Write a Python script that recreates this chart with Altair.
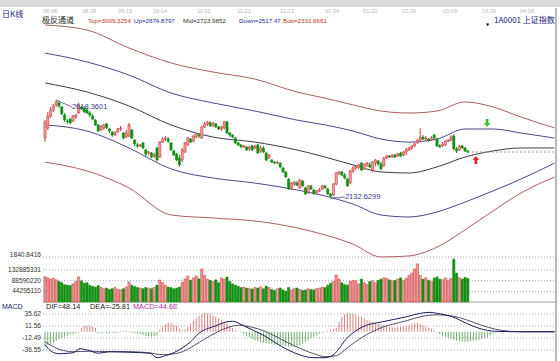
import altair as alt
import pandas as pd

# ---------------- data ----------------
OPEN = [2430, 2480, 2539, 2569, 2594, 2604, 2584, 2544, 2514, 2524,
        2514, 2534, 2554, 2584, 2579, 2569, 2554, 2539, 2519, 2495,
        2470, 2480, 2500, 2475, 2460, 2445, 2460, 2475, 2455, 2435,
        2440, 2470, 2420, 2396, 2391, 2406, 2371, 2356, 2356, 2341,
        2381, 2336, 2410, 2425, 2425, 2406, 2366, 2351, 2331, 2321,
        2361, 2396, 2425, 2415, 2435, 2445, 2430, 2485, 2500, 2505,
        2495, 2500, 2485, 2475, 2480, 2510, 2455, 2445, 2430, 2406,
        2396, 2386, 2386, 2376, 2391, 2381, 2396, 2366, 2381, 2356,
        2331, 2321, 2311, 2306, 2306, 2282, 2262, 2227, 2183, 2202,
        2207, 2183, 2217, 2183, 2163, 2193, 2173, 2158, 2168, 2178,
        2193, 2178, 2153, 2148, 2202, 2257, 2262, 2247, 2227, 2207,
        2267, 2282, 2287, 2306, 2277, 2297, 2297, 2272, 2306, 2316,
        2302, 2292, 2331, 2341, 2336, 2346, 2341, 2356, 2346, 2361,
        2371, 2381, 2391, 2406, 2420, 2435, 2425, 2425, 2420, 2445,
        2425, 2391, 2391, 2396, 2415, 2420, 2440, 2376, 2371, 2391,
        2381, 2366]
CLOSE = [2510, 2539, 2569, 2589, 2609, 2589, 2549, 2519, 2510, 2505,
         2539, 2544, 2594, 2574, 2559, 2554, 2544, 2524, 2495, 2465,
         2490, 2495, 2480, 2465, 2445, 2455, 2475, 2480, 2430, 2455,
         2495, 2430, 2401, 2391, 2396, 2381, 2351, 2361, 2336, 2346,
         2321, 2410, 2425, 2430, 2415, 2371, 2346, 2321, 2297, 2371,
         2406, 2430, 2410, 2440, 2450, 2440, 2485, 2500, 2510, 2490,
         2505, 2485, 2475, 2485, 2510, 2455, 2445, 2435, 2406, 2396,
         2386, 2391, 2371, 2386, 2371, 2391, 2356, 2381, 2361, 2321,
         2346, 2311, 2306, 2311, 2287, 2262, 2237, 2178, 2207, 2212,
         2197, 2222, 2193, 2153, 2193, 2178, 2158, 2168, 2173, 2193,
         2183, 2153, 2143, 2202, 2257, 2262, 2247, 2232, 2193, 2267,
         2282, 2287, 2297, 2272, 2297, 2306, 2287, 2311, 2321, 2302,
         2277, 2331, 2341, 2336, 2346, 2336, 2351, 2341, 2361, 2371,
         2381, 2391, 2401, 2420, 2435, 2425, 2430, 2420, 2430, 2430,
         2391, 2386, 2401, 2415, 2420, 2435, 2376, 2366, 2391, 2381,
         2366, 2361]
HIGH = [2519, 2559, 2584, 2599, 2618.36, 2614, 2589, 2554, 2524, 2529,
        2544, 2549, 2604, 2589, 2589, 2579, 2564, 2549, 2524, 2500,
        2495, 2500, 2505, 2480, 2465, 2465, 2480, 2490, 2460, 2470,
        2505, 2475, 2425, 2406, 2401, 2410, 2376, 2366, 2361, 2356,
        2386, 2415, 2435, 2440, 2435, 2410, 2371, 2356, 2346, 2381,
        2410, 2435, 2430, 2445, 2455, 2455, 2490, 2510, 2514, 2514,
        2510, 2505, 2490, 2490, 2514, 2514, 2460, 2450, 2435, 2410,
        2401, 2396, 2391, 2391, 2396, 2396, 2401, 2391, 2391, 2361,
        2351, 2326, 2316, 2316, 2311, 2287, 2267, 2232, 2212, 2217,
        2217, 2227, 2222, 2188, 2197, 2197, 2178, 2173, 2183, 2197,
        2197, 2183, 2158, 2207, 2262, 2267, 2267, 2257, 2232, 2272,
        2292, 2292, 2302, 2311, 2306, 2311, 2311, 2316, 2326, 2321,
        2311, 2336, 2346, 2346, 2351, 2351, 2356, 2361, 2366, 2381,
        2386, 2396, 2406, 2425, 2478.38, 2445, 2440, 2430, 2440, 2450,
        2430, 2401, 2410, 2420, 2425, 2445, 2450, 2386, 2396, 2396,
        2386, 2371]
LOW = [2410, 2470, 2529, 2559, 2584, 2579, 2544, 2510, 2500, 2500,
       2510, 2524, 2549, 2569, 2554, 2549, 2534, 2519, 2490, 2460,
       2465, 2470, 2475, 2455, 2435, 2440, 2455, 2465, 2425, 2430,
       2435, 2425, 2391, 2381, 2386, 2376, 2341, 2346, 2331, 2331,
       2316, 2331, 2406, 2415, 2406, 2366, 2341, 2316, 2287, 2311,
       2356, 2391, 2406, 2410, 2430, 2430, 2425, 2480, 2490, 2485,
       2485, 2480, 2470, 2465, 2475, 2450, 2435, 2430, 2401, 2391,
       2381, 2381, 2366, 2366, 2366, 2376, 2351, 2356, 2356, 2316,
       2326, 2306, 2302, 2302, 2282, 2257, 2232, 2173, 2173, 2193,
       2193, 2178, 2188, 2148, 2153, 2173, 2148, 2153, 2163, 2173,
       2178, 2148, 2132.63, 2143, 2197, 2247, 2242, 2227, 2188, 2202,
       2257, 2272, 2277, 2267, 2272, 2287, 2282, 2262, 2292, 2292,
       2272, 2287, 2326, 2331, 2331, 2331, 2336, 2336, 2341, 2346,
       2366, 2371, 2386, 2401, 2415, 2420, 2415, 2410, 2415, 2425,
       2386, 2381, 2386, 2391, 2410, 2415, 2371, 2356, 2366, 2376,
       2361, 2356]
VOLUME_M = [105, 100, 95, 98, 92, 85, 80, 72, 70, 68,
            75, 85, 104, 88, 78, 80, 70, 65, 62, 68,
            60, 55, 58, 52, 55, 60, 52, 50, 55, 62,
            83, 70, 65, 60, 58, 55, 60, 57, 55, 60,
            70, 91, 80, 68, 62, 60, 55, 58, 62, 82,
            95, 108, 90, 100, 108, 96, 137, 110, 95, 90,
            85, 92, 80, 100, 95, 104, 85, 75, 70, 65,
            60, 62, 58, 56, 54, 60, 58, 62, 55, 66,
            60, 52, 48, 55, 58, 50, 45, 60, 50, 55,
            58, 52, 48, 50, 55, 52, 50, 55, 58, 62,
            60, 70, 78, 85, 112, 95, 80, 72, 70, 85,
            90, 88, 75, 95, 80, 72, 85, 88, 80, 90,
            95, 100, 98, 92, 88, 90, 95, 100, 90, 98,
            110, 120, 137, 158, 110, 95, 100, 90, 85, 100,
            104, 95, 92, 100, 90, 98, 178, 120, 100, 95,
            102, 98]
MACD_HIST = [-30, -27, -25, -22, -18, -15, -12, -10, -8, -6,
             -5, -3, -2, 8, 11, 12, 12, 10, 8, -3,
             -3, -2, -3, -4, -2, -3, -2, -1, 2, 2,
             1, -2, -3, -4, -5, -6, -8, -9, -10, -9,
             -8, 4, 10, 15, 18, 17, 14, 12, 6, 4,
             5, 10, 16, 22, 27, 32, 36, 38, 37, 35,
             33, 30, 27, 24, 20, 16, 12, 8, 4, 1,
             -2, -5, -8, -11, -14, -17, -19, -21, -22, -23,
             -24, -25, -26, -27, -28, -28, -29, -30, -30, -30,
             -29, -27, -24, -20, -17, -13, -10, -7, -4, -2,
             -1, 2, 4, 6, 8, 20, 30, 35, 37, 37,
             36, 34, 32, 30, 27, 24, 22, 20, 18, 16,
             15, 14, 12, 10, 9, 8, 9, 10, 11, 12,
             13, 15, 17, 18, 16, 13, 10, 8, 5, 2,
             -2, -5, -8, -10, -12, -14, -16, -18, -19, -20,
             -20, -20, -19, -18, -17, -16, -14, -12, -10, -7,
             -4, -2, -1]
DIF_IDX = [0, 2, 5, 10, 12.5, 16, 19, 23, 30, 37.5, 40, 43, 48, 52, 55, 61, 65, 67, 71, 74,
           79, 84, 89, 96, 100, 103, 108, 113.5, 120.5, 129, 134, 137.5, 140, 145.5, 150.5,
           155, 161, 170, 182]
DIF_VAL = [-26, -38, -44, -42, -34, -38, -43, -40, -41, -43, -52, -48, -36, -20, -3, 12, 20, 21, 12, 4,
           -10, -28, -42, -52, -52, -46, -12, 10, 20, 30, 37, 39, 37, 30, 17,
           7, 1, 0, 0]
DEA_IDX = [0, 5, 10, 16, 23, 30, 37, 42, 48, 52, 56, 61, 65, 69, 74, 79, 84, 89, 96, 100,
           104, 108, 113, 120, 129, 134, 140, 146, 151, 156, 161, 166, 172, 182]
DEA_VAL = [-20, -35, -40, -39, -40, -40, -42, -46, -42, -32, -18, -2, 8, 13, 9, 0, -14, -28, -44, -50,
           -48, -32, -12, 8, 22, 30, 34, 31, 23, 13, 5, 1, 0, 0]
BAND_IDX = [0, 15, 30, 45, 60, 75, 90, 100, 110, 120, 130, 140, 150, 160, 170, 182]
BAND_TOP = [2990, 2965, 2876, 2802, 2757, 2722, 2658, 2628, 2594, 2564, 2554, 2564, 2609, 2584, 2534, 2480]
BAND_UP = [2851, 2807, 2742, 2653, 2604, 2564, 2519, 2495, 2465, 2425, 2410, 2425, 2475, 2475, 2455, 2430]
BAND_MID = [2703, 2658, 2589, 2495, 2435, 2410, 2371, 2336, 2297, 2262, 2257, 2287, 2336, 2366, 2381, 2381]
BAND_DOWN = [2495, 2465, 2381, 2277, 2232, 2207, 2173, 2143, 2103, 2049, 2039, 2064, 2113, 2168, 2227, 2306]
BAND_BOTT = [2311, 2267, 2183, 2049, 2034, 2019, 1985, 1950, 1905, 1841, 1846, 1890, 1975, 2069, 2158, 2237]
PRICE_TICKS = [1840.8416]
PRICE_TICK_LABELS = ["1840.8416"]
VOL_TICKS = [132885331, 88590220, 44295110]
VOL_TICK_LABELS = ["132885331", "88590220", "44295110"]
MACD_TICKS = [35.62, 11.56, -12.49, -36.55]
MACD_TICK_LABELS = ["35.62", "11.56", "-12.49", "-36.55"]
DATE_LABELS = ["08-08", "08-29", "09-19", "10-14", "11-02", "11-23", "12-12",
               "01-04", "01-20", "02-20", "03-09", "03-29", "04-18"]
DATE_POS = [-0.7, 13.2, 26.1, 38.6, 54.3, 68.6, 83.9, 100, 113.6, 127.5, 142.1, 156.1, 169.6]
HIGH_LABEL, HIGH_POS = "2618.3601", (9.6, 2584)
LOW_LABEL, LOW_POS = "2132.6299", (107.1, 2138)
SELL_SIGNAL = (157.9, 2505)
BUY_SIGNAL = (153.9, 2321)

# ---------------- chart ----------------
N = len(CLOSE)
candles = pd.DataFrame({"i": list(range(N)), "o": OPEN, "h": HIGH, "l": LOW, "c": CLOSE,
                        "v": [m * 1_000_000 for m in VOLUME_M]})
candles["zero"] = 0
hist = pd.DataFrame({"i": list(range(len(MACD_HIST))), "m": MACD_HIST})
hist["zero"] = 0
one = pd.DataFrame({"a": [0]})

X = alt.Scale(domain=[0, 182], range=[45, 554.6], padding=0, nice=False, zero=False)
PY = alt.Scale(domain=[1840.8416, 2990], range=[257, 25], nice=False, zero=False)
VY = alt.Scale(domain=[0, 190e6], range=[302, 256.25], nice=False, zero=False)
MY = alt.Scale(domain=[-58.6, 57.7], range=[361, 303], nice=False, zero=False)

SANS = "Liberation Sans"
CJK = "Noto Sans CJK SC"
UP_FILL, UP_STROKE, DOWN = "#eaa2a2", "#d23a3a", "#139013"


def xi():
    return alt.X("i:Q", scale=X, axis=None)


layers = []

# toolbar strip
layers.append(alt.Chart(one).mark_rect(color="#dcdcdc").encode(
    x=alt.value(0), x2=alt.value(560), y=alt.value(0), y2=alt.value(7)))

# dates
layers.append(alt.Chart(pd.DataFrame({"i": DATE_POS, "t": DATE_LABELS})).mark_text(
    align="left", baseline="middle", fontSize=5.5, font=SANS, color="#b8b8b8").encode(
    x=xi(), y=alt.value(10.5), text="t:N"))

# header texts
header = [
    ("日K线", 2, 15, "#1a1a7a", CJK, 8),
    ("极反通道", 42, 21, "#222222", CJK, 8),
    ("Top=3009.3254", 88, 21, "#c03030", SANS, 6.2),
    ("Up=2874.8797", 134, 21, "#2a2aa0", SANS, 6.2),
    ("Mid=2723.9852", 183, 21, "#333333", SANS, 6.2),
    ("Down=2517.47", 239, 21, "#2a2aa0", SANS, 6.2),
    ("Bott=2331.6661", 283, 21, "#c03030", SANS, 6.2),
    ("1A0001 上证指数", 494, 21, "#1a1a7a", CJK, 8),
    ("▼", 486, 25, "#000000", "DejaVu Sans", 4),
    ("MACD", 2, 307, "#1a1a7a", SANS, 7),
    ("DIF=48.14", 46, 307, "#222222", SANS, 7.3),
    ("DEA=-25.81", 90, 307, "#222222", SANS, 7.3),
    ("MACD=44.6E", 133, 307, "#b030b0", SANS, 7.3),
]
for t, px, py, col, fnt, fs in header:
    layers.append(alt.Chart(one).mark_text(
        text=t, align="left", baseline="middle", font=fnt, fontSize=fs, color=col).encode(
        x=alt.value(px), y=alt.value(py)))

# grid lines and their labels
grid = [
    (PRICE_TICKS, PRICE_TICK_LABELS, PY, -2),
    (VOL_TICKS, VOL_TICK_LABELS, VY, 0),
    (MACD_TICKS, MACD_TICK_LABELS, MY, 0),
]
for vals, labs, sc, dy in grid:
    gdf = pd.DataFrame({"v": vals, "t": labs})
    layers.append(alt.Chart(gdf).mark_rule(color="#a8a8a8", strokeDash=[1, 2], strokeWidth=1).encode(
        x=alt.value(43), x2=alt.value(556), y=alt.Y("v:Q", scale=sc, axis=None)))
    layers.append(alt.Chart(gdf).mark_text(
        align="right", baseline="middle", font=SANS, fontSize=6.6, color="#333333", dy=dy).encode(
        x=alt.value(41), y=alt.Y("v:Q", scale=sc, axis=None), text="t:N"))

# volume baseline
layers.append(alt.Chart(candles.head(1)).mark_rule(color="#a0a0a0").encode(
    x=alt.value(43), x2=alt.value(556), y=alt.Y("zero:Q", scale=VY, axis=None)))

# channel bands
for vals, col in [(BAND_TOP, "#a86060"), (BAND_UP, "#4a4a86"), (BAND_MID, "#3c3c48"),
                  (BAND_DOWN, "#4a4a86"), (BAND_BOTT, "#a86060")]:
    layers.append(alt.Chart(pd.DataFrame({"i": BAND_IDX, "p": vals})).mark_line(
        interpolate="monotone", strokeWidth=1, color=col).encode(
        x=xi(), y=alt.Y("p:Q", scale=PY, axis=None)))

UP = "datum.c >= datum.o"
# wicks
layers.append(alt.Chart(candles).mark_rule(strokeWidth=1).encode(
    x=xi(), y=alt.Y("l:Q", scale=PY, axis=None), y2="h:Q",
    color=alt.condition(UP, alt.value(UP_STROKE), alt.value(DOWN))))
# bodies
layers.append(alt.Chart(candles).mark_bar(size=2.2, strokeWidth=0.6).encode(
    x=xi(), y=alt.Y("o:Q", scale=PY, axis=None), y2="c:Q",
    fill=alt.condition(UP, alt.value(UP_FILL), alt.value(DOWN)),
    stroke=alt.condition(UP, alt.value(UP_STROKE), alt.value(DOWN))))

# last price dashed line
layers.append(alt.Chart(pd.DataFrame({"i": [N - 1, 182], "p": [CLOSE[-1], CLOSE[-1]]})).mark_line(
    color="#909090", strokeDash=[2, 2], strokeWidth=1).encode(
    x=xi(), y=alt.Y("p:Q", scale=PY, axis=None)))

# high / low annotations
hi_i = HIGH.index(max(HIGH))
lo_i = LOW.index(min(LOW))
layers.append(alt.Chart(pd.DataFrame({"i": [hi_i, HIGH_POS[0]], "p": [max(HIGH), HIGH_POS[1]]})).mark_line(
    color="#4a4a8a", strokeWidth=0.8).encode(x=xi(), y=alt.Y("p:Q", scale=PY, axis=None)))
layers.append(alt.Chart(pd.DataFrame({"i": [lo_i, LOW_POS[0]], "p": [min(LOW), LOW_POS[1]]})).mark_line(
    color="#4a4a8a", strokeWidth=0.8).encode(x=xi(), y=alt.Y("p:Q", scale=PY, axis=None)))
for lab, (pi, pp) in [(HIGH_LABEL, HIGH_POS), (LOW_LABEL, LOW_POS)]:
    layers.append(alt.Chart(pd.DataFrame({"i": [pi], "p": [pp], "t": [lab]})).mark_text(
        align="left", baseline="middle", font=SANS, fontSize=7.5, color="#3a3a8a").encode(
        x=xi(), y=alt.Y("p:Q", scale=PY, axis=None), text="t:N"))

# signal arrows
DOWN_ARROW = "M-0.35,-1 L0.35,-1 L0.35,0.1 L0.9,0.1 L0,1 L-0.9,0.1 L-0.35,0.1 Z"
UP_ARROW = "M-0.35,1 L0.35,1 L0.35,-0.1 L0.9,-0.1 L0,-1 L-0.9,-0.1 L-0.35,-0.1 Z"
for (si, sp), shape, col in [(SELL_SIGNAL, DOWN_ARROW, "#33c433"), (BUY_SIGNAL, UP_ARROW, "#dd2222")]:
    layers.append(alt.Chart(pd.DataFrame({"i": [si], "p": [sp]})).mark_point(
        shape=shape, filled=True, size=60, color=col, opacity=1).encode(
        x=xi(), y=alt.Y("p:Q", scale=PY, axis=None)))

# volume
layers.append(alt.Chart(candles).mark_bar(size=2.2, strokeWidth=0.6).encode(
    x=xi(), y=alt.Y("v:Q", scale=VY, axis=None), y2="zero:Q",
    fill=alt.condition(UP, alt.value(UP_FILL), alt.value(DOWN)),
    stroke=alt.condition(UP, alt.value(UP_STROKE), alt.value(DOWN))))

# MACD histogram
layers.append(alt.Chart(hist).mark_rule(strokeWidth=1).encode(
    x=xi(), y=alt.Y("m:Q", scale=MY, axis=None), y2="zero:Q",
    color=alt.condition("datum.m >= 0", alt.value("#d88080"), alt.value("#72ac72"))))

# DIF / DEA
for idx, vals, col in [(DEA_IDX, DEA_VAL, "#50506e"), (DIF_IDX, DIF_VAL, "#1c1c5c")]:
    layers.append(alt.Chart(pd.DataFrame({"i": idx, "m": vals})).mark_line(
        interpolate="monotone", strokeWidth=1, color=col).encode(
        x=xi(), y=alt.Y("m:Q", scale=MY, axis=None)))

# right frame
layers.append(alt.Chart(one).mark_rule(color="#a0a0a0", strokeWidth=1.5).encode(
    x=alt.value(556), y=alt.value(8), y2=alt.value(361)))

chart = alt.layer(*layers).resolve_scale(y="independent").properties(
    width=560, height=361, padding=0,
    autosize=alt.AutoSizeParams(type="none"),
    background="white",
).configure_view(stroke=None)

chart.save("out.html", embed_options={"renderer": "svg", "actions": False})
